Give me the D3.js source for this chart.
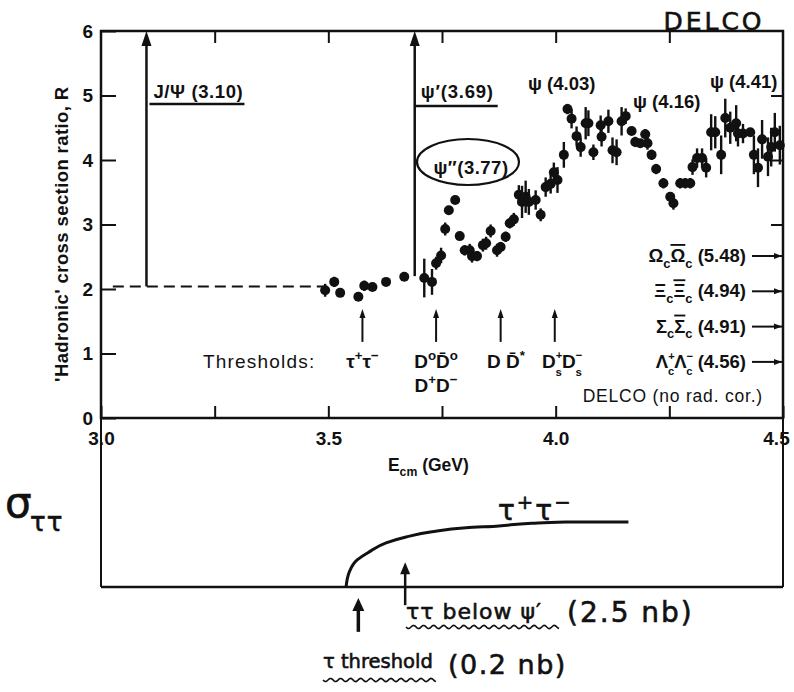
<!DOCTYPE html>
<html>
<head>
<meta charset="utf-8">
<script src="https://cdn.jsdelivr.net/npm/d3@7"></script>
<style>
    body { margin: 0; background: #fff; }
    svg text { font-family: "Liberation Sans", Arial, sans-serif; fill: #111; }
    .b { font-weight: bold; }
    .hand { font-family: "DejaVu Sans", sans-serif; fill: #111; stroke: #111; stroke-width: 0.6; }
</style>
</head>
<body>
<div id="chart"></div>
<script>
// measured points (E_cm in GeV, R, error on R)
const energy = [
    3.493, 3.513, 3.526, 3.566, 3.579, 3.597, 3.627, 3.667, 3.711, 3.728,
    3.737, 3.748, 3.757, 3.765, 3.779, 3.789, 3.800, 3.811, 3.816, 3.827,
    3.840, 3.847, 3.857, 3.871, 3.879, 3.890, 3.899, 3.908, 3.919, 3.926,
    3.934, 3.941, 3.956, 3.967, 3.978, 3.989, 3.996, 4.004, 4.018, 4.026,
    4.035, 4.046, 4.055, 4.066, 4.072, 4.083, 4.099, 4.101, 4.116, 4.125,
    4.134, 4.145, 4.154, 4.167, 4.175, 4.186, 4.197, 4.202, 4.211, 4.221,
    4.237, 4.252, 4.259, 4.274, 4.285, 4.296, 4.301, 4.311, 4.322, 4.331,
    4.342, 4.351, 4.364, 4.373, 4.384, 4.397, 4.401, 4.412, 4.428, 4.436,
    4.445, 4.454, 4.467, 4.474, 4.482, 4.493
];
const ratio = [
    1.98, 2.11, 1.94, 1.88, 2.05, 2.03, 2.11, 2.19, 2.17, 2.11,
    2.40, 2.52, 2.93, 3.22, 3.38, 2.82, 2.60, 2.60, 2.51, 2.51,
    2.68, 2.71, 2.90, 2.60, 2.65, 2.81, 3.02, 3.08, 3.46, 3.35,
    3.43, 3.35, 3.38, 3.15, 3.58, 3.63, 3.81, 3.69, 4.08, 4.79,
    4.64, 4.37, 4.20, 4.57, 4.57, 4.12, 4.54, 4.36, 4.60, 4.15,
    4.12, 4.60, 4.68, 4.45, 4.28, 4.26, 4.40, 4.26, 4.08, 3.86,
    3.64, 3.43, 3.33, 3.64, 3.64, 3.64, 3.89, 4.03, 4.03, 3.88,
    4.43, 4.43, 4.08, 4.65, 4.50, 4.57, 4.41, 4.41, 4.43, 4.08,
    3.88, 4.32, 4.05, 4.20, 4.43, 4.23
];
const ratioErr = [
    0.10, 0.08, 0.06, 0.06, 0.08, 0.06, 0.04, 0.04, 0.30, 0.20,
    0.10, 0.12, 0.10, 0.05, 0.05, 0.06, 0.08, 0.10, 0.10, 0.08,
    0.10, 0.10, 0.10, 0.10, 0.08, 0.08, 0.08, 0.10, 0.15, 0.25,
    0.25, 0.20, 0.15, 0.10, 0.15, 0.15, 0.15, 0.20, 0.20, 0.08,
    0.15, 0.15, 0.15, 0.25, 0.20, 0.12, 0.15, 0.15, 0.18, 0.20,
    0.20, 0.22, 0.12, 0.06, 0.08, 0.06, 0.08, 0.10, 0.08, 0.08,
    0.08, 0.06, 0.10, 0.08, 0.08, 0.08, 0.12, 0.15, 0.15, 0.15,
    0.28, 0.25, 0.30, 0.30, 0.25, 0.28, 0.20, 0.15, 0.05, 0.30,
    0.30, 0.30, 0.30, 0.30, 0.30, 0.30
];

const yTicks = [0, 1, 2, 3, 4, 5, 6];
const xTicks = [3.0, 3.25, 3.5, 3.75, 4.0, 4.25, 4.5];
const xTickLabels = { 3.0: '3.0', 3.5: '3.5', 4.0: '4.0', 4.5: '4.5' };
const rightTicks = [3, 4, 5];

// resonances
const jpsiE = 3.10, psiPrimeE = 3.69, continuumR = 2.04;

// thresholds (arrow positions in GeV)
const thresholdE = [3.575, 3.737, 3.879, 3.998];

// charmed baryon pairs, mass in GeV
const baryonMass = ['5.48', '4.94', '4.91', '4.56'];

// hand drawn tau pair cross section sketch (relative units)
const tauE = [3.539, 3.546, 3.564, 3.590, 3.627, 3.671, 3.728, 3.803, 3.875, 3.947, 4.022, 4.094, 4.160];
const tauSigma = [0, 0.23, 0.42, 0.54, 0.68, 0.77, 0.85, 0.91, 0.94, 0.98, 1.0, 1.0, 1.0];
const tauThresholdE = 3.566, tauBelowPsiE = 3.669;

const W = 794, H = 692;
const svg = d3.select('#chart').append('svg')
    .attr('width', W).attr('height', H)
    .style('background', '#fff');

const x = d3.scaleLinear().domain([3.0, 4.5]).range([101, 783]);
const y = d3.scaleLinear().domain([0, 6]).range([418, 31]);
const s = d3.scaleLinear().domain([0, 1]).range([587, 522]);

// rich text helper: parts = [[text, kind], ...]
// kind: '' normal, 'sup', 'sub', 'bar' (overlined),
// 'ssup'/'stack' = small superscript with subscript stacked under it
const rich = (g, px, py, parts, size, anchor, cls) => {
    const t = g.append('text').attr('x', px).attr('y', py)
        .attr('font-size', size).attr('text-anchor', anchor || 'start')
        .attr('class', cls || 'b');
    let cur = 0, lastSupLen = 0;
    parts.forEach(([str, kind]) => {
        let target = 0, fs = size, dx = 0;
        if (kind === 'sup') { target = -size * 0.4; fs = size * 0.7; }
        if (kind === 'sub') { target = size * 0.3; fs = size * 0.7; }
        if (kind === 'ssup') { target = -size * 0.45; fs = size * 0.6; }
        if (kind === 'stack') { target = size * 0.4; fs = size * 0.6; dx = -lastSupLen; }
        const ts = t.append('tspan').attr('dy', target - cur).attr('font-size', fs).text(str);
        if (kind === 'bar') ts.style('text-decoration', 'overline');
        if (dx) ts.attr('dx', dx);
        lastSupLen = kind === 'ssup' ? str.length * fs * 0.6 : 0;
        cur = target;
    });
    return t;
};

const arrow = (g, px, y0, y1, head, half, width) => {
    const dir = y1 < y0 ? 1 : -1;
    g.append('line').attr('x1', px).attr('x2', px).attr('y1', y0).attr('y2', y1 + dir * head * 0.8)
        .attr('stroke', '#111').attr('stroke-width', width);
    g.append('path')
        .attr('d', `M${px},${y1} L${px - half},${y1 + dir * head} L${px + half},${y1 + dir * head} Z`)
        .attr('fill', '#111');
};

const hArrow = (g, x0, x1, py) => {
    g.append('line').attr('x1', x0).attr('x2', x1).attr('y1', py).attr('y2', py)
        .attr('stroke', '#111').attr('stroke-width', 2);
    g.append('path').attr('d', `M${x1 - 1},${py} L${x1 - 9},${py - 3} L${x1 - 9},${py + 3} Z`).attr('fill', '#111');
};

const wavy = (g, x0, x1, py) => {
    const pts = d3.range(x0, x1, 1).map(px => [px, py + 1.6 * Math.sin((px - x0) / 1.6)]);
    g.append('path').attr('d', d3.line()(pts)).attr('fill', 'none')
        .attr('stroke', '#111').attr('stroke-width', 1.6);
};

// ---------- upper panel ----------
const upper = svg.append('g');

upper.append('rect')
    .attr('x', x(3.0)).attr('y', y(6))
    .attr('width', x(4.5) - x(3.0)).attr('height', y(0) - y(6))
    .attr('fill', 'none').attr('stroke', '#111').attr('stroke-width', 2.5);

const styleAxis = g => {
    g.select('.domain').remove();
    g.selectAll('.tick line').attr('stroke', '#111').attr('stroke-width', 2);
    g.selectAll('.tick text').attr('fill', '#111')
        .attr('font-family', '"Liberation Sans", Arial, sans-serif')
        .attr('font-weight', 'bold').attr('font-size', 19);
};

upper.append('g').attr('transform', `translate(${x(3.0)},0)`)
    .call(d3.axisLeft(y).tickValues(yTicks).tickSize(-15).tickPadding(8).tickFormat(d3.format('d')))
    .call(styleAxis);

upper.append('g').attr('transform', `translate(0,${y(0)})`)
    .call(d3.axisBottom(x).tickValues(xTicks).tickSize(-12).tickPadding(14)
        .tickFormat(d => xTickLabels[d] || ''))
    .call(styleAxis)
    .call(g => g.selectAll('.tick text').filter(d => d === 4.5).attr('dx', -7));

upper.append('g').attr('transform', `translate(0,${y(6)})`)
    .call(d3.axisTop(x).tickValues(xTicks.slice(1, -1)).tickSize(-12).tickFormat(''))
    .call(styleAxis);

upper.append('g').attr('transform', `translate(${x(4.5)},0)`)
    .call(d3.axisRight(y).tickValues(rightTicks).tickSize(-12).tickFormat(''))
    .call(styleAxis);

// axis titles
upper.append('text')
    .attr('class', 'b')
    .attr('transform', `translate(68,${y(2.85)}) rotate(-90)`)
    .attr('text-anchor', 'middle').attr('font-size', 18.5).attr('letter-spacing', 0.4)
    .text("'Hadronic' cross section ratio, R");

rich(upper, x(3.72), 471, [['E', ''], ['cm', 'sub'], ['   (GeV)', '']], 17.5, 'middle');

// continuum dashed line and resonance arrows
upper.append('line')
    .attr('x1', x(3.026)).attr('x2', x(3.49))
    .attr('y1', y(continuumR)).attr('y2', y(continuumR))
    .attr('stroke', '#111').attr('stroke-width', 2).attr('stroke-dasharray', '11,6');

arrow(upper, x(jpsiE), y(continuumR), y(6), 15, 5, 2.5);
arrow(upper, x(psiPrimeE), y(2.2), y(6), 15, 5, 2.5);

rich(upper, x(jpsiE) + 7, 98, [['J/Ψ (3.10)', '']], 18.5, 'start').attr('letter-spacing', 0.6);
upper.append('line').attr('x1', x(jpsiE) + 3).attr('x2', x(jpsiE) + 98)
    .attr('y1', 104).attr('y2', 104).attr('stroke', '#111').attr('stroke-width', 2.5);

rich(upper, x(psiPrimeE) + 6, 98, [['ψ′(3.69)', '']], 18.5, 'start').attr('letter-spacing', 0.8);
upper.append('line').attr('x1', x(psiPrimeE)).attr('x2', x(psiPrimeE) + 83)
    .attr('y1', 106).attr('y2', 106).attr('stroke', '#111').attr('stroke-width', 2.5);

rich(upper, 471, 174, [['ψ″(3.77)', '']], 18.5, 'middle').attr('letter-spacing', 0.5);
upper.append('ellipse').attr('cx', 468).attr('cy', 162).attr('rx', 51).attr('ry', 23)
    .attr('fill', 'none').attr('stroke', '#111').attr('stroke-width', 2.2);

rich(upper, 528, 90, [['ψ (4.03)', '']], 18.5, 'start');
rich(upper, 633, 108, [['ψ (4.16)', '']], 18.5, 'start');
rich(upper, 710, 88, [['ψ (4.41)', '']], 18.5, 'start');

// data: error bars and points
const pts = energy.map((e, i) => ({ e, r: ratio[i], err: ratioErr[i] }));

upper.append('g').selectAll('line').data(pts).join('line')
    .attr('x1', d => x(d.e)).attr('x2', d => x(d.e))
    .attr('y1', d => y(d.r - d.err)).attr('y2', d => y(d.r + d.err))
    .attr('stroke', '#111').attr('stroke-width', 2.4);

upper.append('g').selectAll('circle').data(pts).join('circle')
    .attr('cx', d => x(d.e)).attr('cy', d => y(d.r)).attr('r', 5)
    .attr('fill', '#111');

// thresholds
thresholdE.forEach(e => arrow(upper, x(e), y(1.18), y(1.69), 9, 3, 2));

upper.append('text').attr('x', 203).attr('y', 368).attr('font-size', 19)
    .attr('letter-spacing', 1.2).text('Thresholds:');
rich(upper, x(thresholdE[0]), 368, [['τ', ''], ['+', 'sup'], ['τ', ''], ['−', 'sup']], 19, 'middle', '');
rich(upper, x(thresholdE[1]), 368, [['D', ''], ['o', 'sup'], ['D̄', ''], ['o', 'sup']], 19, 'middle', '');
rich(upper, x(thresholdE[1]), 392, [['D', ''], ['+', 'sup'], ['D', ''], ['−', 'sup']], 19, 'middle', '');
rich(upper, 487, 368, [['D D̄', ''], ['*', 'sup']], 19, 'start', '');
rich(upper, 542, 368, [['D', ''], ['+', 'ssup'], ['s', 'stack'], ['D', ''], ['−', 'ssup'], ['s', 'stack']], 19, 'start', '');

// charmed baryon pair thresholds, off scale
const baryonParts = [
    [['Ω', ''], ['c', 'sub'], ['Ω', 'bar'], ['c', 'sub']],
    [['Ξ', ''], ['c', 'sub'], ['Ξ', 'bar'], ['c', 'sub']],
    [['Σ', ''], ['c', 'sub'], ['Σ', 'bar'], ['c', 'sub']],
    [['Λ', ''], ['+', 'ssup'], ['c', 'stack'], ['Λ', ''], ['−', 'ssup'], ['c', 'stack']]
];
baryonMass.forEach((m, i) => {
    const rowY = 256 + i * 35.3;
    rich(upper, 746, rowY + 6, baryonParts[i].concat([[` (${m})`, '']]), 18.5, 'end', 'b');
    hArrow(upper, 752, x(4.5), rowY);
});

upper.append('text').attr('x', 763).attr('y', 402).attr('text-anchor', 'end')
    .attr('font-size', 17.5).attr('letter-spacing', 0.8).text('DELCO (no rad. cor.)');

upper.append('text').attr('class', 'hand').attr('x', 714).attr('y', 30)
    .attr('text-anchor', 'middle').attr('font-size', 25).attr('letter-spacing', 3)
    .text('DELCO');

// ---------- lower sketch: tau pair cross section ----------
const low = svg.append('g');

[3.0, 4.5].forEach(e => low.append('line')
    .attr('x1', x(e)).attr('x2', x(e)).attr('y1', y(0)).attr('y2', s(0))
    .attr('stroke', '#111').attr('stroke-width', 2));

low.append('line').attr('x1', x(3.0)).attr('x2', x(4.5))
    .attr('y1', s(0)).attr('y2', s(0)).attr('stroke', '#111').attr('stroke-width', 2.5);

low.append('path')
    .datum(tauE.map((e, i) => [e, tauSigma[i]]))
    .attr('d', d3.line().x(d => x(d[0])).y(d => s(d[1])).curve(d3.curveMonotoneY))
    .attr('fill', 'none').attr('stroke', '#111').attr('stroke-width', 3);

low.append('text').attr('class', 'hand').attr('x', 5).attr('y', 517)
    .attr('font-size', 42).text('σ');
low.append('text').attr('class', 'hand').attr('x', 30).attr('y', 531)
    .attr('font-size', 26).attr('letter-spacing', 1).text('ττ');

rich(low, 498, 520, [['τ', ''], ['+', 'sup'], ['τ', ''], ['−', 'sup']], 28, 'start', 'hand')
    .attr('letter-spacing', 2);

arrow(low, x(tauThresholdE), s(-0.69), s(-0.17), 13, 6, 3.5);
arrow(low, x(tauBelowPsiE), s(-0.28), s(0.38), 12, 5, 2.5);

low.append('text').attr('class', 'hand').attr('x', 406).attr('y', 619)
    .attr('font-size', 22).attr('letter-spacing', 1).text('ττ below ψ′');
wavy(low, 406, 560, 627);
low.append('text').attr('class', 'hand').attr('x', 567).attr('y', 622)
    .attr('font-size', 28).attr('letter-spacing', 2).text('(2.5 nb)');

rich(low, 323, 668, [['τ', ''], [' threshold', '']], 19.5, 'start', 'hand');
wavy(low, 323, 437, 680);
low.append('text').attr('class', 'hand').attr('x', 448).attr('y', 674)
    .attr('font-size', 27).attr('letter-spacing', 1.5).text('(0.2 nb)');
</script>
</body>
</html>
